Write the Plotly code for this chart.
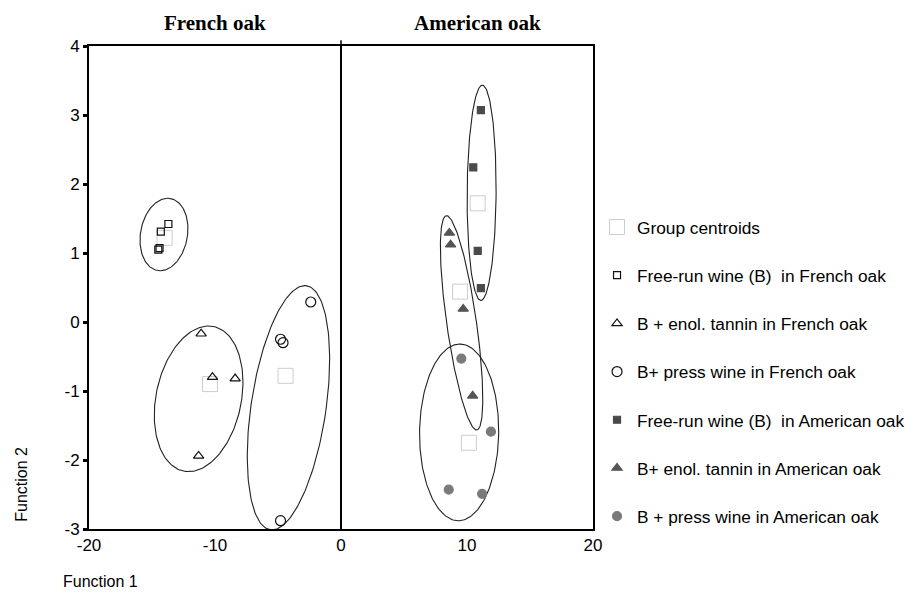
import numpy as np
import plotly.graph_objects as go

# ---- data ----
fr_free_x = [-13.7, -14.3, -14.5, -14.4]
fr_free_y = [1.42, 1.31, 1.05, 1.07]
fr_enol_x = [-11.1, -10.2, -8.4, -11.3]
fr_enol_y = [-0.17, -0.80, -0.82, -1.94]
fr_press_x = [-2.4, -4.8, -4.6, -4.8]
fr_press_y = [0.29, -0.25, -0.30, -2.88]
am_free_x = [11.1, 10.5, 10.85, 11.1]
am_free_y = [3.07, 2.24, 1.03, 0.49]
am_enol_x = [8.6, 8.7, 9.7, 10.45]
am_enol_y = [1.29, 1.12, 0.19, -1.07]
am_press_x = [9.55, 11.9, 8.55, 11.2]
am_press_y = [-0.53, -1.59, -2.43, -2.49]
centroid_x = [-14.0, -10.4, -4.4, 10.85, 9.45, 10.15]
centroid_y = [1.22, -0.90, -0.78, 1.72, 0.44, -1.75]

# group ellipses: centre, horizontal half-width, offset of top point
ell_cx = [-14.05, -11.3, -4.17, 11.16, 9.57, 9.375]
ell_cy = [1.268, -1.113, -1.243, 1.872, -0.012, -1.60]
ell_w = [1.88, 3.43, 3.00, 1.15, 1.19, 3.14]
ell_tx = [0.30, 0.79, 1.30, 0.06, -1.19, 0.06]
ell_ty = [0.525, 1.055, 1.77, 1.56, 1.553, 1.28]

x_ticks = [-20, -10, 0, 10, 20]
x_tick_labels = ["-20", "-10", "0", "10", "20"]
y_ticks = [-3, -2, -1, 0, 1, 2, 3, 4]
y_tick_labels = ["-3", "-2", "-1", "0", "1", "2", "3", "4"]

legend_names = [
    "Group centroids",
    "Free-run wine (B)  in French oak",
    "B + enol. tannin in French oak",
    "B+ press wine in French oak",
    "Free-run wine (B)  in American oak",
    "B+ enol. tannin in American oak",
    "B + press wine in American oak",
]

fig = go.Figure()

# ellipses
t = np.linspace(0, 2 * np.pi, 200)
for cx, cy, w, tx, ty in zip(ell_cx, ell_cy, ell_w, ell_tx, ell_ty):
    ex = cx + w * np.cos(t) + tx * np.sin(t)
    ey = cy + ty * np.sin(t)
    fig.add_trace(go.Scatter(x=ex, y=ey, mode="lines", showlegend=False,
                             line=dict(color="#222222", width=1.1), hoverinfo="skip"))

# centroids
fig.add_trace(go.Scatter(x=centroid_x, y=centroid_y, mode="markers", name=legend_names[0],
                         legendgroup="g0",
                         marker=dict(symbol="square-open", size=15, color="#cccccc",
                                     line=dict(width=1, color="#cccccc"))))

groups = [
    (fr_free_x, fr_free_y, "square-open", 7, "#111111"),
    (fr_enol_x, fr_enol_y, "triangle-up-open", 9, "#111111"),
    (fr_press_x, fr_press_y, "circle-open", 10, "#111111"),
    (am_free_x, am_free_y, "square", 7, "#4a4a4a"),
    (am_enol_x, am_enol_y, "triangle-up", 9, "#555555"),
    (am_press_x, am_press_y, "circle", 9, "#7a7a7a"),
]
for i, (gx, gy, sym, sz, col) in enumerate(groups):
    fig.add_trace(go.Scatter(x=gx, y=gy, mode="markers", name=legend_names[i + 1],
                             legendgroup="g%d" % (i + 1),
                             marker=dict(symbol=sym, size=sz, color=col,
                                         line=dict(width=1.2, color=col))))

serif = "Liberation Serif, Times New Roman, serif"
fig.update_layout(
    width=923, height=614,
    margin=dict(l=80.5, r=337.5, t=38, b=93),
    paper_bgcolor="white", plot_bgcolor="white",
    font=dict(family="Liberation Sans, Arial, sans-serif", color="black"),
    showlegend=True,
    legend=dict(x=1.008, xanchor="left", y=0.662, yanchor="top",
                font=dict(size=17.3, family="Liberation Sans, Arial, sans-serif"),
                tracegroupgap=22.7, bgcolor="rgba(0,0,0,0)", borderwidth=0),
    xaxis=dict(range=[-20, 20], tickvals=x_ticks, ticktext=x_tick_labels, ticks="",
               showgrid=False, showline=True, linecolor="black", linewidth=2, mirror=True,
               zeroline=True, zerolinecolor="black", zerolinewidth=1.5,
               tickfont=dict(size=17)),
    yaxis=dict(range=[-3, 4], tickvals=y_ticks, ticktext=y_tick_labels, ticks="outside",
               ticklen=4, tickwidth=3, tickcolor="black", showgrid=False,
               showline=True, linecolor="black", linewidth=2, mirror=True,
               zeroline=False, tickfont=dict(size=17)),
    annotations=[
        dict(text="<b>French oak</b>", x=0.2505, y=1.048, xref="paper", yref="paper",
             xanchor="center", yanchor="middle", showarrow=False,
             font=dict(family=serif, size=21)),
        dict(text="<b>American oak</b>", x=0.7705, y=1.048, xref="paper", yref="paper",
             xanchor="center", yanchor="middle", showarrow=False,
             font=dict(family=serif, size=21)),
        dict(text="Function 2", x=-0.1356, y=0.093, xref="paper", yref="paper",
             xanchor="center", yanchor="middle", textangle=-90, showarrow=False,
             font=dict(size=16)),
        dict(text="Function 1", x=0.0228, y=-0.1097, xref="paper", yref="paper",
             xanchor="center", yanchor="middle", showarrow=False, font=dict(size=16)),
    ],
    shapes=[dict(type="line", xref="x", yref="paper", x0=0, x1=0, y0=1.0, y1=1.012,
                 line=dict(color="black", width=1.5))],
)

fig.write_html("out.html")
